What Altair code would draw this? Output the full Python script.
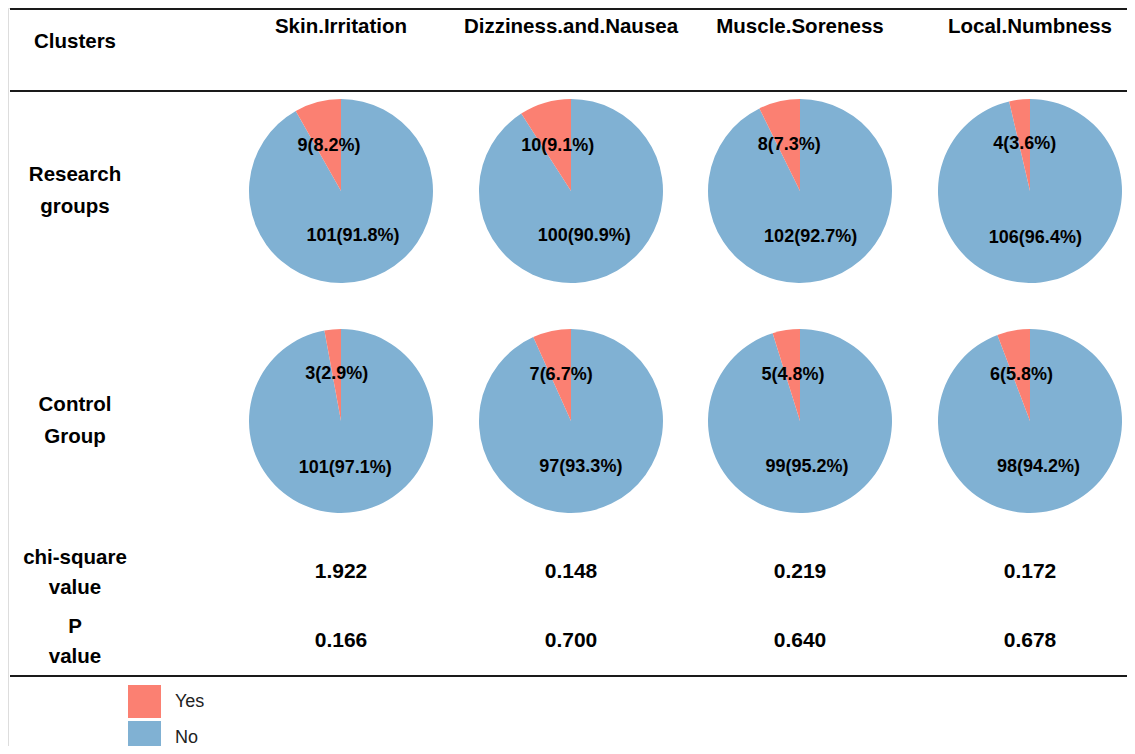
import math
import altair as alt
import pandas as pd

# ---- data ----
columns = ["Skin.Irritation", "Dizziness.and.Nausea", "Muscle.Soreness", "Local.Numbness"]
research_yes = [9, 10, 8, 4]
research_no = [101, 100, 102, 106]
control_yes = [3, 7, 5, 6]
control_no = [101, 97, 99, 98]
chi_square = ["1.922", "0.148", "0.219", "0.172"]
p_values = ["0.166", "0.700", "0.640", "0.678"]
group_labels = ["Research\ngroups", "Control\nGroup"]
stat_labels = ["chi-square\nvalue", "P\nvalue"]
answers = ["Yes", "No"]
colors = ["#FB8072", "#80B1D3"]

# row slots of the table: line_top, title, header, line_mid, research, control, chi, p, line_bottom
ROW = {"line_top": 0, "title": 1, "header": 2, "line_mid": 3, "research": 4,
       "control": 5, "chi": 6, "p": 7, "line_bottom": 8}
row_pos = [1, 19, 34, 83, 183, 413, 564, 633, 668]
col_pos = [67, 333, 563, 792, 1022]  # label column + 4 data columns

xs = alt.Scale(domain=[0, 1, 2, 3, 4], range=col_pos, zero=False, nice=False)
ys = alt.Scale(domain=list(range(9)), range=row_pos, zero=False, nice=False)

# ---- pie table ----
pie_rows = []
for gi, (yes, no) in enumerate([(research_yes, research_no), (control_yes, control_no)]):
    r = ROW["research"] if gi == 0 else ROW["control"]
    for ci in range(len(columns)):
        tot = yes[ci] + no[ci]
        for ans, n, order in (("No", no[ci], 0), ("Yes", yes[ci], 1)):
            pie_rows.append({"c": ci + 1, "r": r, "answer": ans, "count": n, "ord": order,
                             "label": f"{n}({n / tot * 100:.1f}%)"})
pies = pd.DataFrame(pie_rows)

font = "Liberation Sans"

pie_base = alt.Chart(pies).transform_joinaggregate(
    total="sum(count)", groupby=["c", "r"]
).transform_window(
    cum="sum(count)", groupby=["c", "r"], sort=[alt.SortField("ord")], frame=[None, 0]
).transform_calculate(
    t1="datum.cum / datum.total",
    t0="(datum.cum - datum.count) / datum.total",
).transform_calculate(
    tm="(datum.t0 + datum.t1) / 2"
)

theta_scale = alt.Scale(domain=[0, 1], range=[0, 2 * math.pi])

arcs = pie_base.mark_arc(radius=92).encode(
    x=alt.X("c:Q", scale=xs, axis=None),
    y=alt.Y("r:Q", scale=ys, axis=None),
    theta=alt.Theta("t0:Q", scale=theta_scale),
    theta2="t1:Q",
    color=alt.Color("answer:N", scale=alt.Scale(domain=answers, range=colors),
                    legend=alt.Legend(title=None, orient="none", legendX=120, legendY=677,
                                      symbolType="square", symbolSize=1089,
                                      symbolStrokeWidth=0, labelFontSize=18,
                                      labelFont=font, labelColor="#222222",
                                      labelOffset=14, rowPadding=3, padding=0)),
)

pie_labels = pie_base.mark_text(radius=47, font=font, fontSize=18, fontWeight="bold",
                                color="black", baseline="middle", align="center").encode(
    x=alt.X("c:Q", scale=xs, axis=None),
    y=alt.Y("r:Q", scale=ys, axis=None),
    theta=alt.Theta("tm:Q", scale=theta_scale),
    text="label:N",
)

# ---- header texts ----
header_df = pd.DataFrame({"c": list(range(1, 5)), "r": [ROW["title"]] * 4, "t": columns})
headers = alt.Chart(header_df).mark_text(font=font, fontSize=20.5, fontWeight="bold",
                                         color="black", baseline="middle").encode(
    x=alt.X("c:Q", scale=xs, axis=None), y=alt.Y("r:Q", scale=ys, axis=None), text="t:N")

clusters_df = pd.DataFrame({"c": [0], "r": [ROW["header"]], "t": ["Clusters"]})
clusters = alt.Chart(clusters_df).mark_text(font=font, fontSize=20.5, fontWeight="bold",
                                            color="black", baseline="middle").encode(
    x=alt.X("c:Q", scale=xs, axis=None), y=alt.Y("r:Q", scale=ys, axis=None), text="t:N")

grp_df = pd.DataFrame({"c": [0, 0], "r": [ROW["research"], ROW["control"]], "t": group_labels})
grp_text = alt.Chart(grp_df).mark_text(font=font, fontSize=20.5, fontWeight="bold",
                                       color="black", baseline="middle", lineBreak="\n",
                                       lineHeight=32, dy=-16).encode(
    x=alt.X("c:Q", scale=xs, axis=None), y=alt.Y("r:Q", scale=ys, axis=None), text="t:N")

stat_df = pd.DataFrame({"c": [0, 0], "r": [ROW["chi"], ROW["p"]], "t": stat_labels})
stat_text = alt.Chart(stat_df).mark_text(font=font, fontSize=20.5, fontWeight="bold",
                                         color="black", baseline="middle", lineBreak="\n",
                                         lineHeight=30, dy=-14).encode(
    x=alt.X("c:Q", scale=xs, axis=None), y=alt.Y("r:Q", scale=ys, axis=None), text="t:N")

val_rows = []
for ci in range(4):
    val_rows.append({"c": ci + 1, "r": ROW["chi"], "t": chi_square[ci]})
    val_rows.append({"c": ci + 1, "r": ROW["p"], "t": p_values[ci]})
vals = alt.Chart(pd.DataFrame(val_rows)).mark_text(font=font, fontSize=21, fontWeight="bold",
                                                   color="black", baseline="middle").encode(
    x=alt.X("c:Q", scale=xs, axis=None), y=alt.Y("r:Q", scale=ys, axis=None), text="t:N")

# ---- horizontal rules ----
rules_df = pd.DataFrame({"r": [ROW["line_top"], ROW["line_mid"], ROW["line_bottom"]]})
rules = alt.Chart(rules_df).mark_rule(strokeWidth=2, color="#1a1a1a").encode(
    y=alt.Y("r:Q", scale=ys, axis=None), x=alt.value(2), x2=alt.value(1119))

chart = alt.layer(rules, arcs, pie_labels, headers, clusters, grp_text, stat_text, vals).properties(
    width=1119, height=738, autosize=alt.AutoSizeParams(type="none"), padding=0
).configure_view(stroke=None).configure(font=font)

chart.save("out.html", embed_options={"renderer": "svg", "actions": False})
